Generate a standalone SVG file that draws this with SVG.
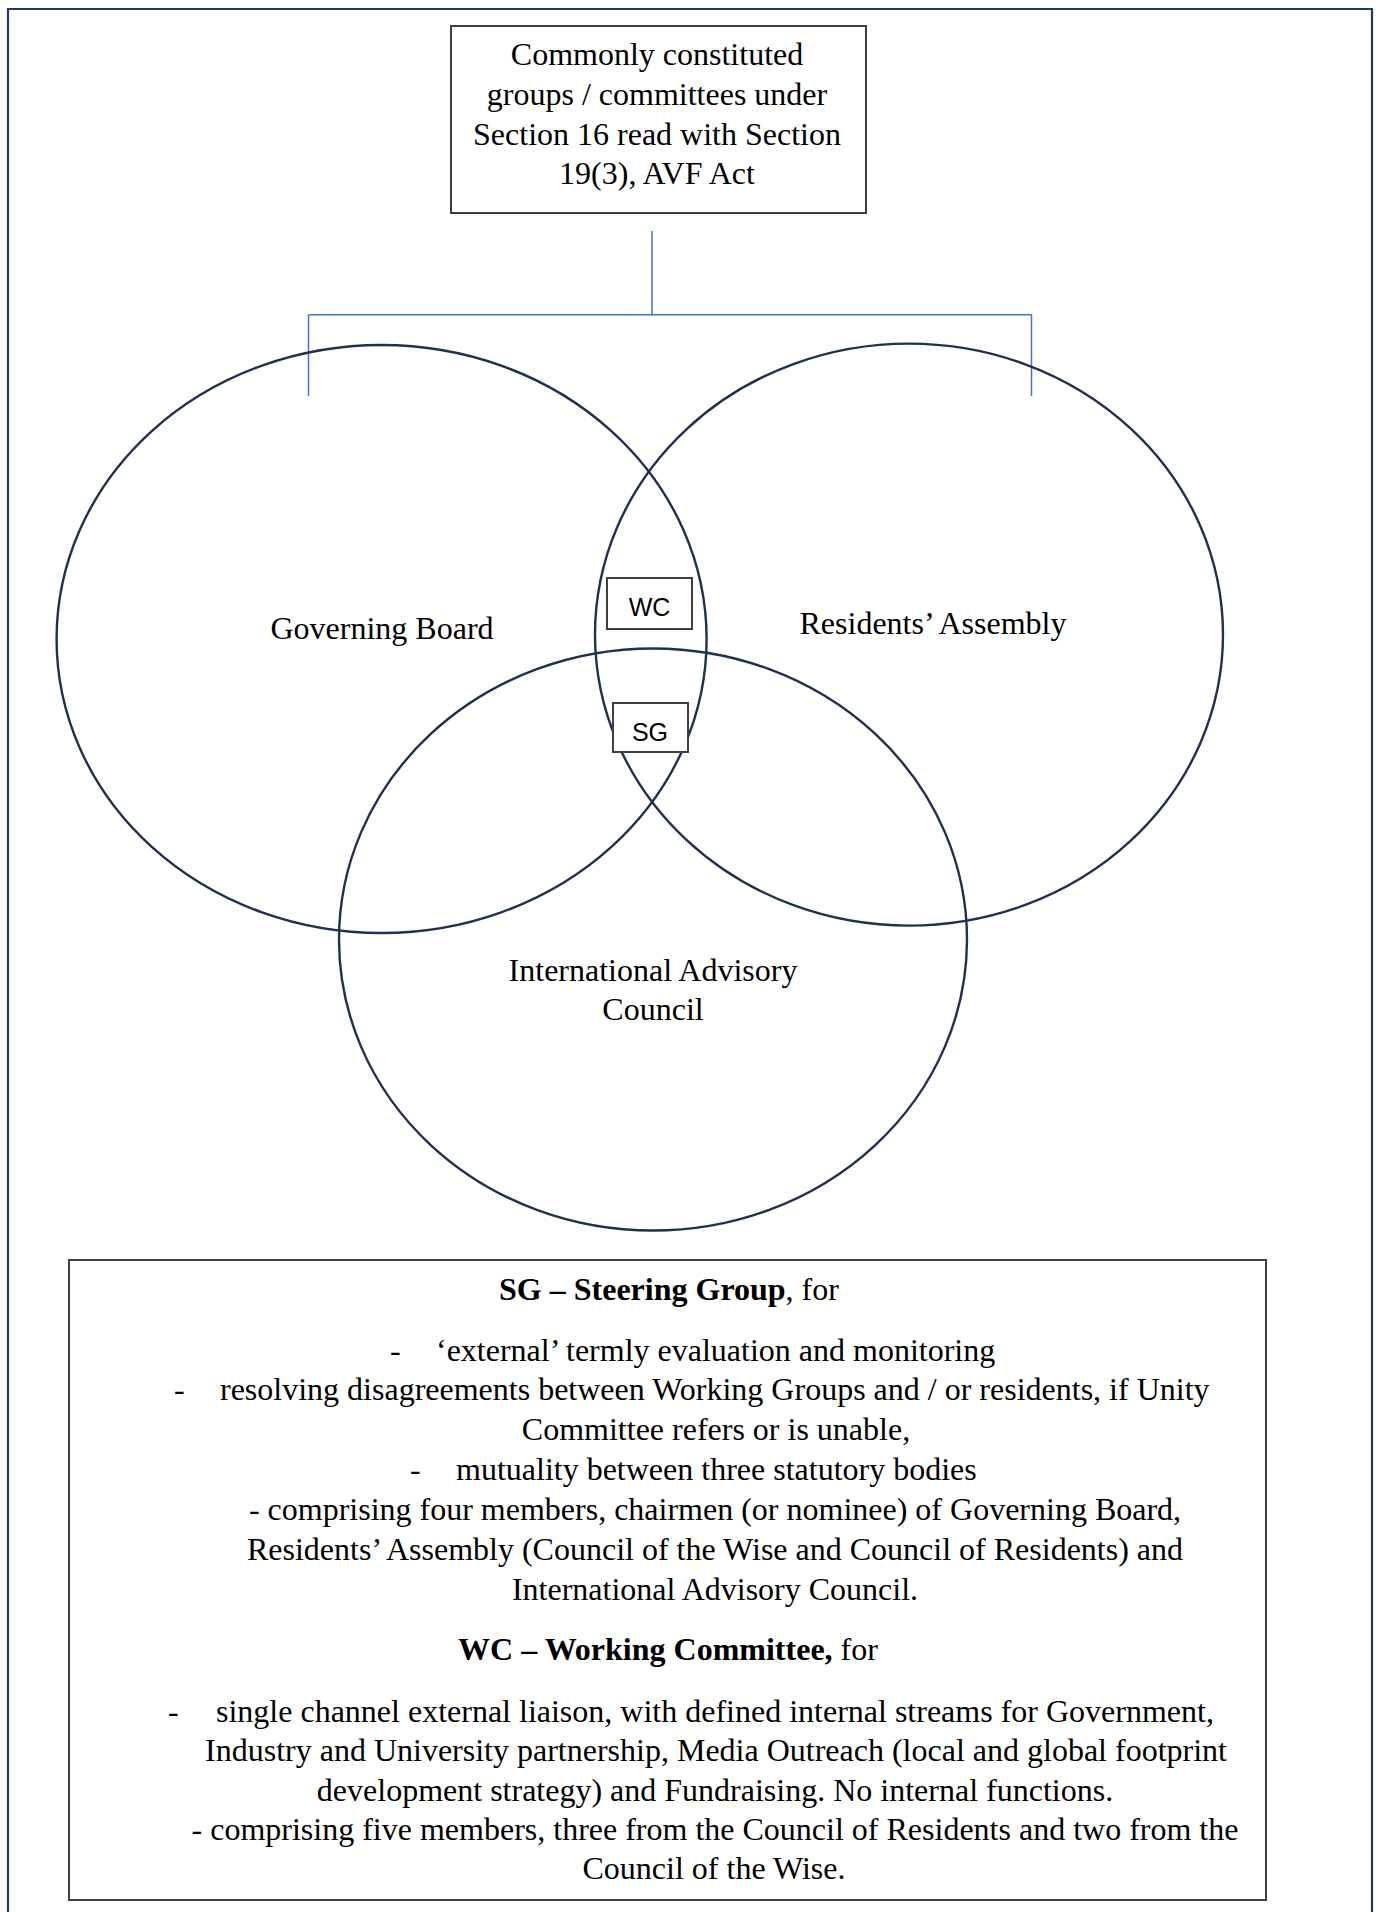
<svg xmlns="http://www.w3.org/2000/svg" width="1379" height="1912" viewBox="0 0 1379 1912">
<style>
.t{font-family:"Liberation Serif","Times New Roman",serif;font-size:32px;fill:#000}
.c{text-anchor:middle}
.b{font-weight:bold}
.s{font-family:"Liberation Sans",Arial,sans-serif;font-size:25px;fill:#000;text-anchor:middle}
.box{fill:#fff;stroke:#404040;stroke-width:2}
.ell{fill:none;stroke:#1F3050;stroke-width:2.4}
.con{fill:none;stroke:#4472C4;stroke-width:1.5}
</style>
<rect width="1379" height="1912" fill="#fff"/>
<path d="M8,1912 V9 H1372 V1912" fill="none" stroke="#1F3864" stroke-width="2.2"/>
<g id="top">
<rect class="box" x="451" y="26" width="415" height="187"/>
<text class="t c" x="657" y="65">Commonly constituted</text>
<text class="t c" x="657" y="105">groups / committees under</text>
<text class="t c" x="657" y="145">Section 16 read with Section</text>
<text class="t c" x="657" y="184">19(3), AVF Act</text>
</g>
<g id="connectors">
<path class="con" d="M652,231 V314.7 M308.5,314.7 H1031.5 M308.5,314.7 V396 M1031.5,314.7 V396"/>
</g>
<g id="governing-board">
<ellipse class="ell" cx="381.6" cy="639" rx="325" ry="294"/>
<text class="t c" x="382" y="639">Governing Board</text>
</g>
<g id="residents-assembly">
<ellipse class="ell" cx="909" cy="634.6" rx="314" ry="291"/>
<text class="t c" x="933" y="634">Residents’ Assembly</text>
</g>
<g id="iac">
<ellipse class="ell" cx="653" cy="939.5" rx="314" ry="291"/>
<text class="t c" x="653" y="981">International Advisory</text>
<text class="t c" x="653" y="1020">Council</text>
</g>
<g id="wc">
<rect class="box" x="607" y="578" width="85" height="51"/>
<text class="s" x="649.5" y="616">WC</text>
</g>
<g id="sg">
<rect class="box" x="613" y="703" width="75" height="49"/>
<text class="s" x="650" y="741">SG</text>
</g>
<g id="legend">
<rect class="box" x="69" y="1260" width="1197" height="640"/>
<text class="t c" x="669" y="1300"><tspan class="b">SG – Steering Group</tspan>, for</text>
<text class="t" x="390" y="1361">-</text>
<text class="t" x="436" y="1361">‘external’ termly evaluation and monitoring</text>
<text class="t" x="174" y="1400">-</text>
<text class="t" x="220" y="1400">resolving disagreements between Working Groups and / or residents, if Unity</text>
<text class="t c" x="716" y="1440">Committee refers or is unable,</text>
<text class="t" x="410" y="1480">-</text>
<text class="t" x="456" y="1480">mutuality between three statutory bodies</text>
<text class="t c" x="715" y="1520">- comprising four members, chairmen (or nominee) of Governing Board,</text>
<text class="t c" x="715" y="1560">Residents’ Assembly (Council of the Wise and Council of Residents) and</text>
<text class="t c" x="715" y="1600">International Advisory Council.</text>
<text class="t c" x="668" y="1660"><tspan class="b">WC – Working Committee,</tspan> for</text>
<text class="t" x="168" y="1722">-</text>
<text class="t" x="216" y="1722">single channel external liaison, with defined internal streams for Government,</text>
<text class="t c" x="716" y="1761">Industry and University partnership, Media Outreach (local and global footprint</text>
<text class="t c" x="715" y="1801">development strategy) and Fundraising. No internal functions.</text>
<text class="t c" x="715" y="1840">- comprising five members, three from the Council of Residents and two from the</text>
<text class="t c" x="714" y="1879">Council of the Wise.</text>
</g>
</svg>
